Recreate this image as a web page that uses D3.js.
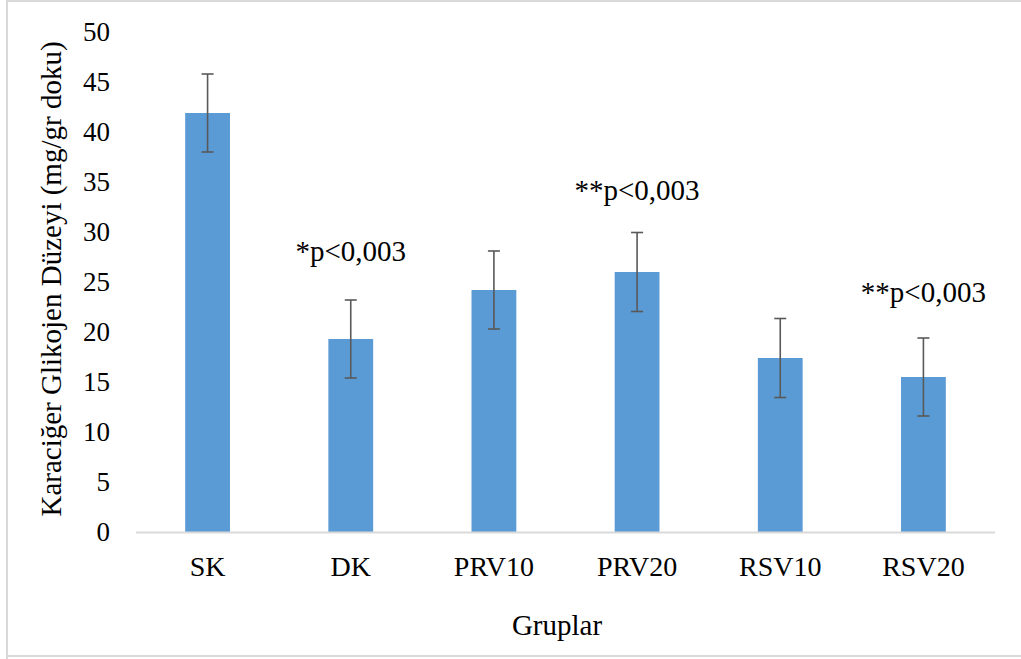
<!DOCTYPE html>
<html>
<head>
<meta charset="utf-8">
<script src="https://cdn.jsdelivr.net/npm/d3@7"></script>
<style>
  html, body { margin: 0; padding: 0; background: #fff; }
  svg { display: block; }
  text { font-family: "Liberation Serif", "Times New Roman", serif; fill: #000; }
</style>
</head>
<body>
<svg id="chart" width="1021" height="659"></svg>
<script>
// Liver glycogen level per group (mean ± SD)
const groups = ["SK", "DK", "PRV10", "PRV20", "RSV10", "RSV20"];
const means  = [41.9, 19.3, 24.2, 26.0, 17.4, 15.5];
const errors = [3.9, 3.9, 3.9, 3.95, 3.95, 3.9];
const notes  = ["", "*p<0,003", "", "**p<0,003", "", "**p<0,003"];
const noteYValues = [null, 27.1, null, 33.2, null, 23.0];
const yTicks = [0, 5, 10, 15, 20, 25, 30, 35, 40, 45, 50];

const svg = d3.select("#chart");
const W = 1021, H = 659;
const plot = { left: 136, right: 995, top: 32, bottom: 532 };
const serif = "Liberation Serif, Times New Roman, serif";

// outer frame
svg.append("path")
  .attr("d", `M7,${H + 2} L7,1 L${W + 2},1 M7,656 L${W + 2},656`)
  .attr("fill", "none")
  .attr("stroke", "#d9d9d9")
  .attr("stroke-width", 2);

const x = d3.scaleBand()
  .domain(groups)
  .range([plot.left, plot.right])
  .paddingInner(0.687)
  .paddingOuter(0.3435);

const y = d3.scaleLinear()
  .domain([0, 50])
  .range([plot.bottom, plot.top]);

// y tick labels
const yAxis = d3.axisLeft(y).tickValues(yTicks).tickSize(0).tickPadding(0);
const gy = svg.append("g").attr("transform", "translate(110,0)").call(yAxis);
gy.select(".domain").remove();
gy.selectAll("text")
  .style("font-family", serif)
  .style("font-size", "27px")
  .attr("fill", "#000")
  .attr("dy", "0.33em");

// bars
svg.append("g").selectAll("rect")
  .data(groups)
  .join("rect")
  .attr("x", d => x(d))
  .attr("width", x.bandwidth())
  .attr("y", (d, i) => y(means[i]))
  .attr("height", (d, i) => y(0) - y(means[i]))
  .attr("fill", "#5b9bd5");

// x axis line
svg.append("line")
  .attr("x1", plot.left).attr("x2", plot.right)
  .attr("y1", y(0) + 0.5).attr("y2", y(0) + 0.5)
  .attr("stroke", "#d9d9d9").attr("stroke-width", 2);

// error bars
const eb = svg.append("g").attr("stroke", "#595959").attr("stroke-width", 1.6).attr("fill", "none");
groups.forEach((g, i) => {
  const cx = x(g) + x.bandwidth() / 2;
  const hi = y(means[i] + errors[i]);
  const lo = y(means[i] - errors[i]);
  eb.append("line").attr("x1", cx).attr("x2", cx).attr("y1", hi).attr("y2", lo);
  eb.append("line").attr("x1", cx - 6).attr("x2", cx + 6).attr("y1", hi).attr("y2", hi);
  eb.append("line").attr("x1", cx - 6).attr("x2", cx + 6).attr("y1", lo).attr("y2", lo);
});

// x tick labels
const xAxis = d3.axisBottom(x).tickSize(0).tickPadding(0);
const gx = svg.append("g").attr("transform", `translate(0,${plot.bottom})`).call(xAxis);
gx.select(".domain").remove();
gx.selectAll("text")
  .style("font-family", serif)
  .style("font-size", "28px")
  .attr("fill", "#000")
  .attr("y", 44)
  .attr("dy", 0);

// significance notes
groups.forEach((g, i) => {
  if (!notes[i]) return;
  svg.append("text")
    .attr("x", x(g) + x.bandwidth() / 2)
    .attr("y", y(noteYValues[i]))
    .attr("text-anchor", "middle")
    .style("font-family", serif)
    .style("font-size", "29px")
    .text(notes[i]);
});

// axis titles
svg.append("text")
  .attr("x", 557).attr("y", 635)
  .attr("text-anchor", "middle")
  .style("font-family", serif)
  .style("font-size", "29px")
  .text("Gruplar");

svg.append("text")
  .attr("transform", "translate(61,279) rotate(-90)")
  .attr("text-anchor", "middle")
  .style("font-family", serif)
  .style("font-size", "29px")
  .text("Karaciğer Glikojen Düzeyi (mg/gr doku)");
</script>
</body>
</html>
